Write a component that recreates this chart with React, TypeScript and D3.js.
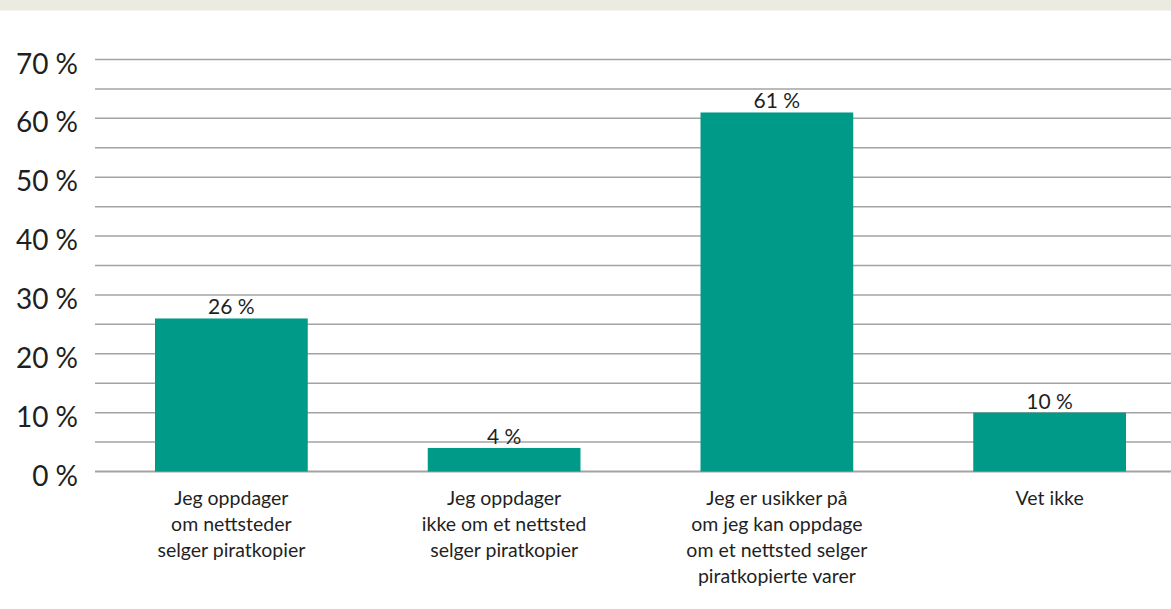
import React from "react";
import * as d3 from "d3";

const categories: string[][] = [
  ["Jeg oppdager", "om nettsteder", "selger piratkopier"],
  ["Jeg oppdager", "ikke om et nettsted", "selger piratkopier"],
  ["Jeg er usikker på", "om jeg kan oppdage", "om et nettsted selger", "piratkopierte varer"],
  ["Vet ikke"],
];
const values: number[] = [26, 4, 61, 10];
const yTicks: number[] = [0, 10, 20, 30, 40, 50, 60, 70];
const gridTicks: number[] = [0, 5, 10, 15, 20, 25, 30, 35, 40, 45, 50, 55, 60, 65, 70];

const W = 1171;
const H = 609;
const FONT = "Lato, 'Open Sans', sans-serif";

export default function App() {
  const x = d3
    .scaleBand<number>()
    .domain(values.map((_, i) => i))
    .range([95, 1186])
    .paddingInner(0.44)
    .paddingOuter(0.22);
  const y = d3.scaleLinear().domain([0, 70]).range([471.5, 59.5]);

  return (
    <svg
      width={W}
      height={H}
      style={{ position: "absolute", left: 0, top: 0, background: "#fff" }}
      fontFamily={FONT}
    >
      <rect x={0} y={0} width={W} height={10.5} fill="#ECEBE1" />
      {gridTicks.map((t) => (
        <line
          key={t}
          x1={95}
          x2={W}
          y1={y(t)}
          y2={y(t)}
          stroke="#A3A3A3"
          strokeWidth={t === 0 ? 2 : 1.5}
        />
      ))}
      {yTicks.map((t) => (
        <text
          key={t}
          x={78}
          y={y(t) + 3}
          textAnchor="end"
          dominantBaseline="central"
          fontSize={28}
          fill="#1f1f1f"
        >
          {`${t} %`}
        </text>
      ))}
      {values.map((v, i) => (
        <g key={i}>
          <rect
            x={x(i)!}
            y={y(v)}
            width={x.bandwidth()}
            height={y(0) - y(v)}
            fill="#009A89"
          />
          <text
            x={x(i)! + x.bandwidth() / 2}
            y={y(v) - 4}
            textAnchor="middle"
            fontSize={21}
            fill="#1f1f1f"
          >
            {`${v} %`}
          </text>
          {categories[i].map((line, j) => (
            <text
              key={j}
              x={x(i)! + x.bandwidth() / 2}
              y={497 + j * 26}
              textAnchor="middle"
              dominantBaseline="central"
              fontSize={19.5}
              fill="#1f1f1f"
            >
              {line}
            </text>
          ))}
        </g>
      ))}
    </svg>
  );
}
